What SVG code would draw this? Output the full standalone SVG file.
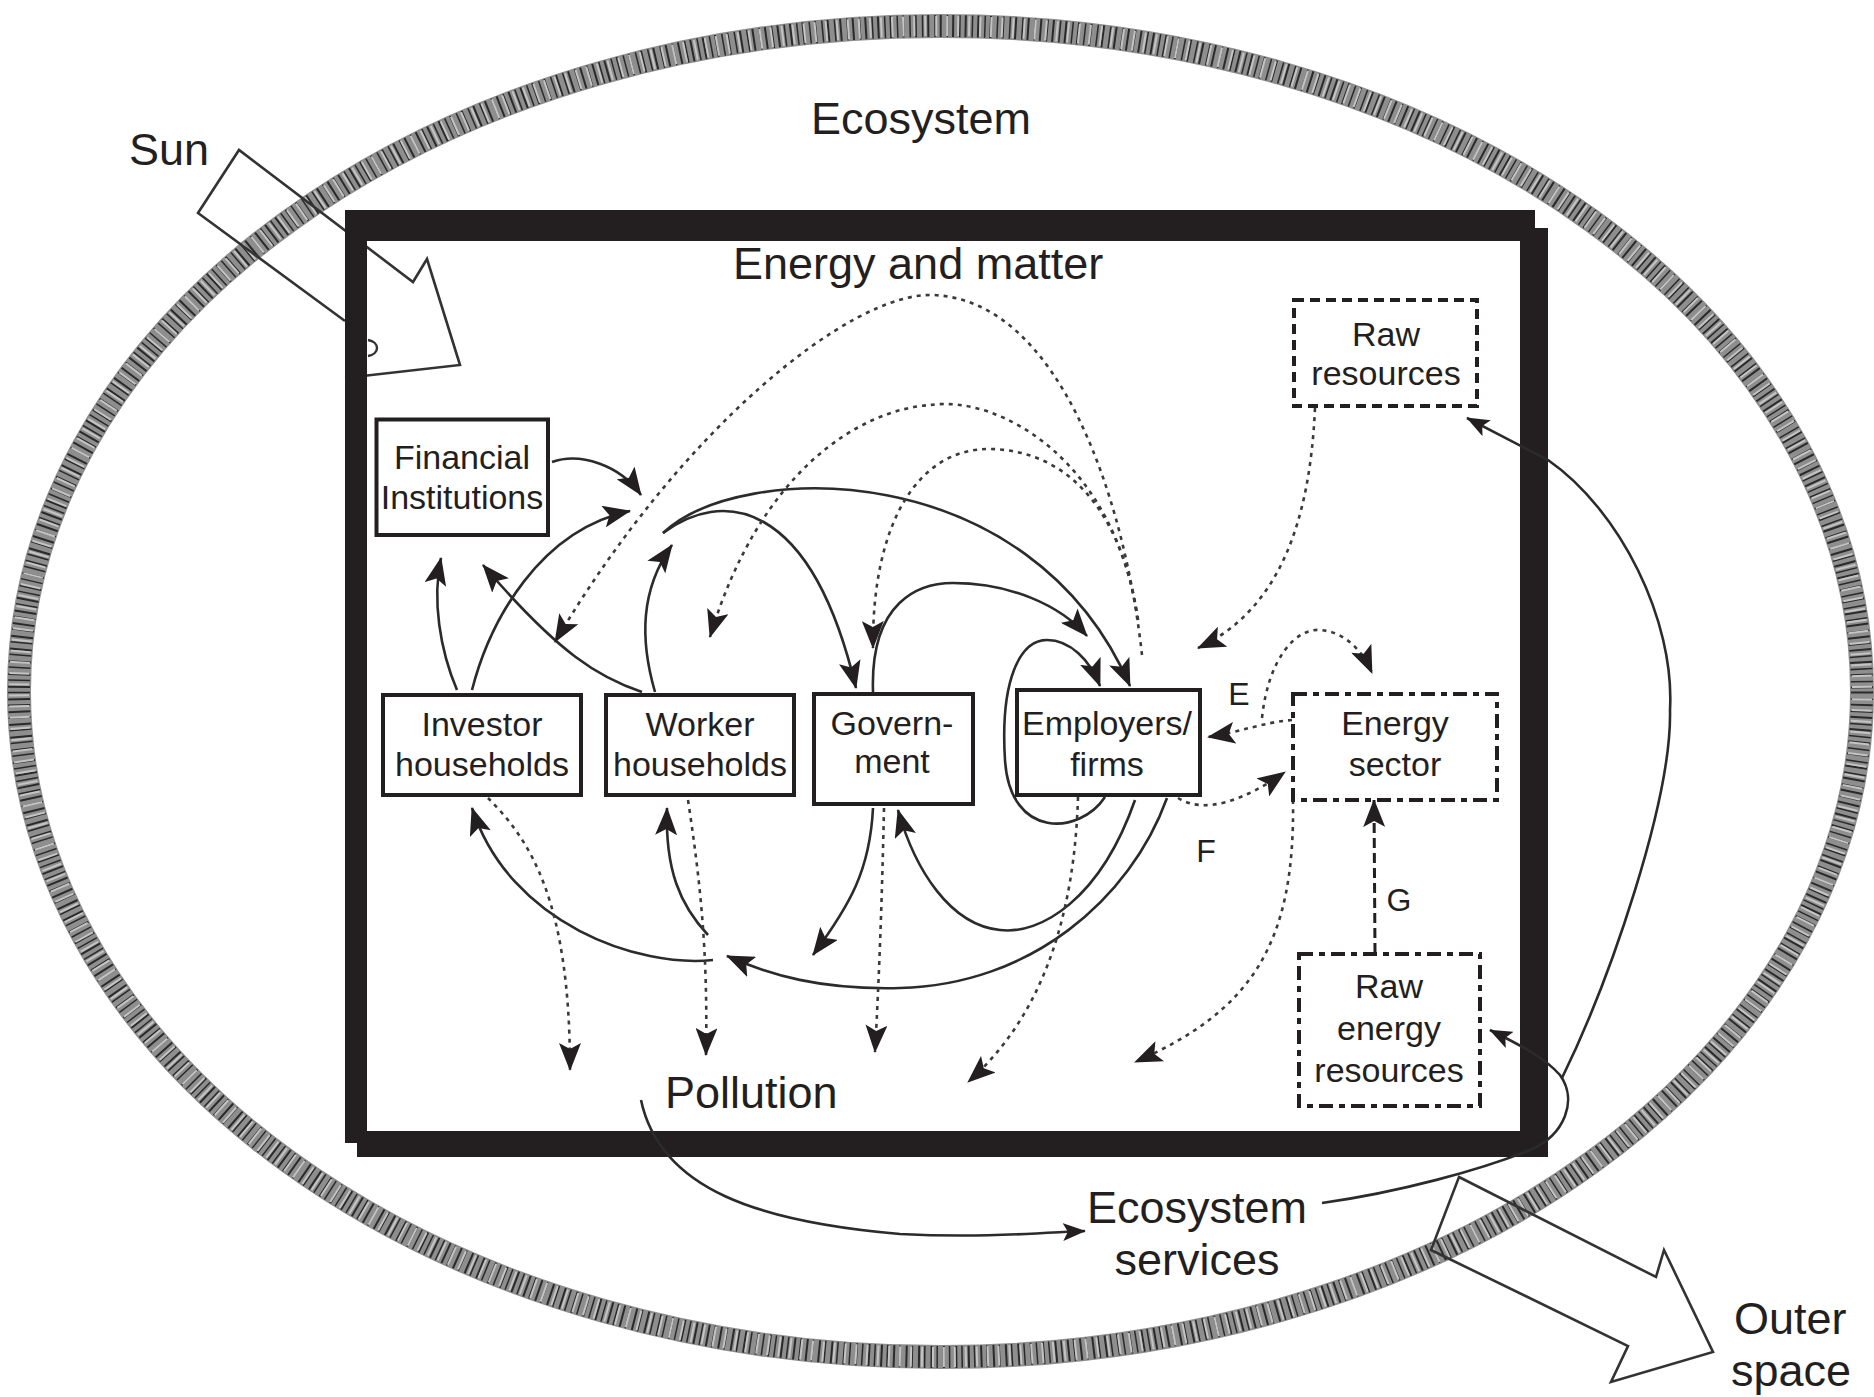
<svg xmlns="http://www.w3.org/2000/svg" width="1874" height="1397" viewBox="0 0 1874 1397">
<style>
.sl{fill:none;stroke:#2b2b2b;stroke-width:2.6}
.dt{fill:none;stroke:#3a3a3a;stroke-width:2.6;stroke-dasharray:4 5}
.box{fill:#fff;stroke:#231f20;stroke-width:4}
.dbox{fill:#fff;stroke:#231f20;stroke-width:4;stroke-dasharray:14 6 6 6}
.rbox{fill:#fff;stroke:#231f20;stroke-width:4;stroke-dasharray:10 6}
.hol{fill:none;stroke:#333;stroke-width:2.6;stroke-linejoin:miter}
.t{font-family:"Liberation Sans",Arial,sans-serif;fill:#231f20;font-size:34px;text-anchor:middle}
.big{font-family:"Liberation Sans",Arial,sans-serif;fill:#231f20;font-size:45px}
</style>
<defs>
<marker id="ah" viewBox="0 0 28 22" refX="27" refY="11" markerWidth="28" markerHeight="22" markerUnits="userSpaceOnUse" orient="auto">
<path d="M0,0 L28,11 L0,22 L6,11 z" fill="#231f20"/>
</marker>
<marker id="ahs" viewBox="0 0 28 22" refX="27" refY="11" markerWidth="23" markerHeight="18" markerUnits="userSpaceOnUse" orient="auto">
<path d="M0,0 L28,11 L0,22 L6,11 z" fill="#231f20"/>
</marker>
</defs>
<rect width="1874" height="1397" fill="#fff"/>

<g id="ecosystem-boundary">
<ellipse cx="940.5" cy="691.5" rx="921.5" ry="665.5" fill="none" stroke="#8e8e8e" stroke-width="24"/>
<ellipse cx="940.5" cy="691.5" rx="921.5" ry="665.5" fill="none" stroke="#2a2a2a" stroke-width="22" stroke-dasharray="2 5 1.5 4"/>
<ellipse cx="940.5" cy="691.5" rx="921.5" ry="665.5" fill="none" stroke="#c4c4c4" stroke-width="20" stroke-dasharray="2 9" stroke-dashoffset="4"/>
</g>

<g id="sun-arrow">
<path class="hol" d="M345,378 L460,365 L427,259 L413,282 L239,150 L198,213 L345,321"/>
</g>
<g id="outer-space-arrow">
<path class="hol" d="M1459,1177 L1656,1277 L1664,1250 L1713,1352 L1611,1382 L1628,1346 L1431,1250 Z"/>
</g>

<g id="economy-frame">
<path d="M345,210 L1535,210 L1535,228 L1548,228 L1548,1157 L357,1157 L357,1143 L345,1143 Z M367,241 L367,1131 L1520,1131 L1520,241 Z" fill="#231f20" fill-rule="evenodd"/>
<path d="M368,340 C380,342 380,354 368,356" fill="none" stroke="#333" stroke-width="2.4"/>
</g>

<g id="connectors">
<path class="sl" d="M552,462 C580,452 620,465 641,495" marker-end="url(#ah)"/>
<path class="sl" d="M472,690 C490,620 540,530 630,511" marker-end="url(#ah)"/>
<path class="sl" d="M457,690 C440,650 432,600 441,558" marker-end="url(#ah)"/>
<path class="sl" d="M642,692 C600,678 560,655 483,565" marker-end="url(#ah)"/>
<path class="sl" d="M655,692 C640,640 640,590 672,545" marker-end="url(#ah)"/>
<path class="sl" d="M663,533 C720,490 810,495 856,688" marker-end="url(#ah)"/>
<path class="sl" d="M663,533 C740,460 1030,455 1130,686" marker-end="url(#ah)"/>
<path class="sl" d="M873,692 C870,600 920,583 953,583 C1010,583 1060,605 1087,636" marker-end="url(#ah)"/>
<path class="sl" d="M1105,797 C1080,835 1010,840 1005,760 C1000,680 1020,640 1047,640 C1070,640 1090,660 1100,686" marker-end="url(#ah)"/>
<path class="sl" d="M1135,800 C1100,900 1040,935 1000,930 C950,925 915,870 898,810" marker-end="url(#ah)"/>
<path class="sl" d="M1167,798 C1130,900 1030,985 900,988 C820,990 770,975 727,956" marker-end="url(#ah)"/>
<path class="sl" d="M713,960 C640,968 510,925 472,808" marker-end="url(#ah)"/>
<path class="sl" d="M708,935 C680,905 665,870 667,808" marker-end="url(#ah)"/>
<path class="sl" d="M873,808 C870,870 850,905 813,955" marker-end="url(#ah)"/>
<path class="sl" d="M641,1100 C660,1190 760,1222 900,1234 C980,1238 1040,1233 1085,1231" marker-end="url(#ahs)"/>
<path class="sl" d="M1322,1203 C1400,1192 1480,1170 1530,1150 C1565,1135 1578,1100 1560,1075 C1545,1058 1520,1045 1490,1030" marker-end="url(#ahs)"/>
<path class="sl" d="M1562,1078 C1610,980 1672,800 1670,710 C1675,620 1620,510 1548,460 L1467,418" marker-end="url(#ahs)"/>

<path class="dt" d="M1142,655 C1125,500 1060,300 933,295 C850,292 680,430 555,642" marker-end="url(#ah)"/>
<path class="dt" d="M1138,620 C1115,460 1000,395 930,405 C860,410 760,470 710,637" marker-end="url(#ah)"/>
<path class="dt" d="M1138,620 C1120,500 1060,450 990,449 C920,448 872,520 873,648" marker-end="url(#ah)"/>
<path class="dt" d="M488,798 C530,840 570,900 570,1070" marker-end="url(#ah)"/>
<path class="dt" d="M688,800 C700,880 708,950 706,1055" marker-end="url(#ah)"/>
<path class="dt" d="M884,808 C882,900 879,980 875,1052" marker-end="url(#ah)"/>
<path class="dt" d="M1078,797 C1075,900 1050,1010 968,1082" marker-end="url(#ah)"/>
<path class="dt" d="M1293,800 C1295,940 1255,1010 1135,1062" marker-end="url(#ah)"/>
<path class="dt" d="M1315,408 C1310,520 1280,610 1198,648" marker-end="url(#ah)"/>
<path class="dt" d="M1292,720 C1265,722 1240,732 1208,737" marker-end="url(#ah)"/>
<path class="dt" d="M1262,718 C1268,660 1295,628 1320,630 C1345,632 1362,650 1372,673" marker-end="url(#ah)"/>
<path class="dt" d="M1178,798 C1205,815 1245,800 1285,772" marker-end="url(#ah)"/>
<path d="M1375,953 L1374,800" fill="none" stroke="#231f20" stroke-width="3" stroke-dasharray="10 5" marker-end="url(#ah)"/>
</g>

<g id="financial-institutions">
<rect class="box" x="376.5" y="419.5" width="171.5" height="115.5"/>
<text class="t" x="462" y="469">Financial</text>
<text class="t" x="462" y="509">Institutions</text>
</g>
<g id="investor-households">
<rect class="box" x="383" y="695" width="198" height="100"/>
<text class="t" x="482" y="736">Investor</text>
<text class="t" x="482" y="776">households</text>
</g>
<g id="worker-households">
<rect class="box" x="606" y="695" width="188" height="100"/>
<text class="t" x="700" y="736">Worker</text>
<text class="t" x="700" y="776">households</text>
</g>
<g id="government">
<rect class="box" x="814" y="694" width="159" height="110"/>
<text class="t" x="892" y="735">Govern-</text>
<text class="t" x="892" y="773">ment</text>
</g>
<g id="employers-firms">
<rect class="box" x="1017" y="690" width="183" height="105"/>
<text class="t" x="1107" y="735">Employers/</text>
<text class="t" x="1107" y="776">firms</text>
</g>
<g id="energy-sector">
<rect class="dbox" x="1293" y="694" width="204" height="106"/>
<text class="t" x="1395" y="735">Energy</text>
<text class="t" x="1395" y="776">sector</text>
</g>
<g id="raw-resources">
<rect class="rbox" x="1294" y="300" width="183" height="106"/>
<text class="t" x="1386" y="346">Raw</text>
<text class="t" x="1386" y="385">resources</text>
</g>
<g id="raw-energy-resources">
<rect class="dbox" x="1299" y="954" width="181" height="152"/>
<text class="t" x="1389" y="998">Raw</text>
<text class="t" x="1389" y="1040">energy</text>
<text class="t" x="1389" y="1082">resources</text>
</g>

<g id="labels">
<text class="big" x="129" y="165">Sun</text>
<text class="big" x="811" y="134">Ecosystem</text>
<text class="big" x="733" y="279">Energy and matter</text>
<text class="big" x="665" y="1108">Pollution</text>
<text class="big" x="1197" y="1223" text-anchor="middle">Ecosystem</text>
<text class="big" x="1197" y="1275" text-anchor="middle">services</text>
<text class="big" x="1734" y="1334">Outer</text>
<text class="big" x="1731" y="1386">space</text>
<text class="t" x="1239" y="705" style="font-size:32px">E</text>
<text class="t" x="1206" y="862" style="font-size:32px">F</text>
<text class="t" x="1399" y="911" style="font-size:32px">G</text>
</g>
</svg>
